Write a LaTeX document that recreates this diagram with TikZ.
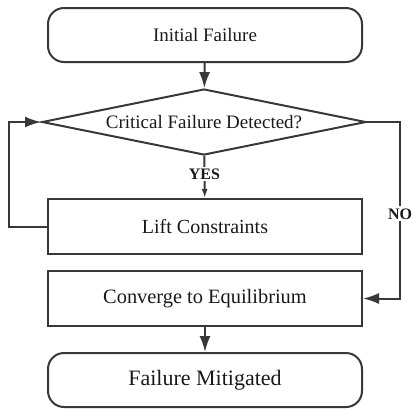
\documentclass[tikz,border=0pt]{standalone}
\usepackage{fontspec}
\setmainfont{Liberation Serif}
\usetikzlibrary{shapes.geometric,arrows.meta}
\begin{document}
\begin{tikzpicture}[x=1pt,y=1pt,line width=1pt,color=black!78,
    term/.style={draw,rounded corners=8pt,minimum width=157pt,minimum height=27pt,inner sep=0pt,text=black!90},
    box/.style={draw,minimum width=157pt,minimum height=27.5pt,inner sep=0pt,text=black!90},
    check/.style={draw,diamond,aspect=5,minimum width=162pt,minimum height=33pt,inner sep=1pt,text=black!90},
    lbl/.style={fill=white,inner sep=1pt,text=black!90,font=\fontsize{8}{9}\selectfont\bfseries},
    flow/.style={-{Latex[length=8pt,width=5.5pt]}}]
      \useasboundingbox (0,0) rectangle (206,-204.5);
      \draw
        (102.5,-17.5) node[term,font=\fontsize{9.5}{11}\selectfont] (init){Initial Failure}
        (102,-61) node[check,font=\fontsize{9.5}{11}\selectfont] (detect){Critical Failure Detected?}
        (102.5,-113.25) node[box,font=\fontsize{10}{12}\selectfont] (lift){Lift Constraints}
        (102.5,-149.25) node[box,font=\fontsize{10.2}{12}\selectfont] (conv){Converge to Equilibrium}
        (102.5,-190) node[term,font=\fontsize{11}{13}\selectfont] (done){Failure Mitigated};
      \coordinate (loop) at (4.5,-113.25);
      \coordinate (no) at (200,-61);
      \begin{scope}[flow]
        \draw (init) to (detect);
        \draw[-{Latex[length=4.5pt,width=3pt]}] (detect) to node[lbl,pos=0.43]{YES} (lift);
        \draw (lift.west) -- (loop) |- (detect.west);
        \draw (detect.east) -- (no) |- node[lbl,pos=0.26]{NO} (conv.east);
        \draw (conv) to (done);
      \end{scope}
    \end{tikzpicture}
\end{document}
